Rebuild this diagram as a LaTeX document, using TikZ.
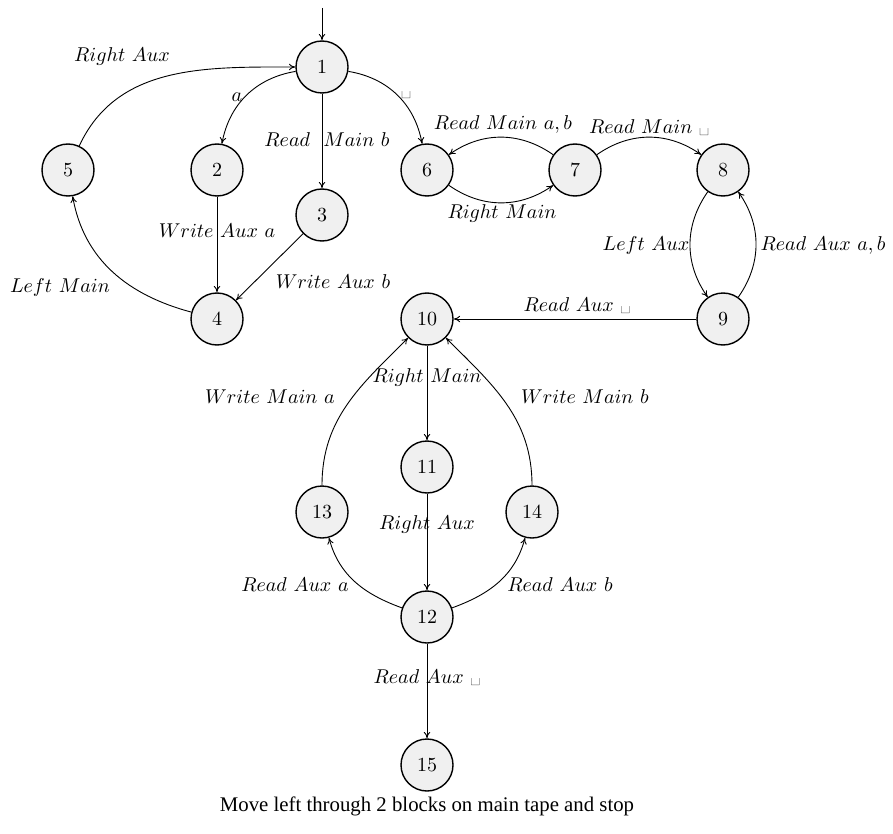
\documentclass[tikz,border=0pt]{standalone}
\usepackage{fontspec}
\newfontfamily\capfont{Liberation Serif}
\usetikzlibrary{arrows.meta}
\newcommand{\vsp}{\mbox{\textvisiblespace}}
\begin{document}
\begin{tikzpicture}[x=0.5pt,y=-0.5pt,
  st/.style={circle,draw,line width=0.7pt,fill=gray!12,minimum size=26pt,inner sep=0pt},
  tr/.style={->,>={To[length=3.2pt,width=3.2pt]},line width=0.45pt},
  lb/.style={inner sep=1pt}]
\useasboundingbox (0,0) rectangle (893,834);
\node[st] (n1) at (322,67) {1};
\node[st] (n2) at (217,170) {2};
\node[st] (n3) at (322,215) {3};
\node[st] (n4) at (217,319) {4};
\node[st] (n5) at (68,170) {5};
\node[st] (n6) at (427,170) {6};
\node[st] (n7) at (575,170) {7};
\node[st] (n8) at (723,170) {8};
\node[st] (n9) at (723,319) {9};
\node[st] (n10) at (427,319) {10};
\node[st] (n11) at (427,467) {11};
\node[st] (n12) at (427,617) {12};
\node[st] (n13) at (322,512) {13};
\node[st] (n14) at (532,512) {14};
\node[st] (n15) at (427,765) {15};
\coordinate (s) at (322,8);
\draw[tr] (s) -- (n1);
\draw[tr] (n1) to[bend right=35] (n2);
\node[lb] at (237,97) {$a$};
\draw[tr] (n1) -- (n3);
\node[lb] at (327,140) {$Read\ \ Main\ b$};
\draw[tr] (n1) to[bend left=35] (n6);
\node[lb] at (406,95) {\vsp};
\draw[tr] (n5) to[out=65,in=180] (n1);
\node[lb] at (122,57) {$Right\ Aux$};
\draw[tr] (n4) to[out=165,in=-80] (n5);
\node[lb] at (60,287) {$Left\ Main$};
\draw[tr] (n2) -- (n4);
\node[lb] at (217,231) {$Write\ Aux\ a$};
\draw[tr] (n3) -- (n4);
\node[lb] at (333,282) {$Write\ Aux\ b$};
\draw[tr] (n7) to[bend right=35] (n6);
\node[lb] at (503,125) {$Read\ Main\ a,b$};
\draw[tr] (n6) to[bend right=35] (n7);
\node[lb] at (502,214) {$Right\ Main$};
\draw[tr] (n7) to[bend left=35] (n8);
\node[lb] at (649,128) {$Read\ Main$ \vsp};
\draw[tr] (n8) to[bend right=35] (n9);
\node[lb] at (646,245) {$Left\ Aux$};
\draw[tr] (n9) to[bend right=35] (n8);
\node[lb] at (823,245) {$Read\ Aux\ a,b$};
\draw[tr] (n9) -- (n10);
\node[lb] at (577,306) {$Read\ Aux$ \vsp};
\draw[tr] (n10) -- (n11);
\node[lb] at (427,377) {$Right\ Main$};
\draw[tr] (n11) -- (n12);
\node[lb] at (427,524) {$Right\ Aux$};
\draw[tr] (n12) to[out=160,in=-75] (n13);
\node[lb] at (295,585) {$Read\ Aux\ a$};
\draw[tr] (n12) to[out=20,in=-105] (n14);
\node[lb] at (560,585) {$Read\ Aux\ b$};
\draw[tr] (n13) to[out=90,in=225] (n10);
\node[lb] at (270,397) {$Write\ Main\ a$};
\draw[tr] (n14) to[out=90,in=-45] (n10);
\node[lb] at (585,397) {$Write\ Main\ b$};
\draw[tr] (n12) -- (n15);
\node[lb] at (427,678) {$Read\ Aux$ \vsp};
\node (cap) at (427,806) {\fontsize{10.4pt}{12pt}\capfont Move left through 2 blocks on main tape and stop};
\end{tikzpicture}
\end{document}
